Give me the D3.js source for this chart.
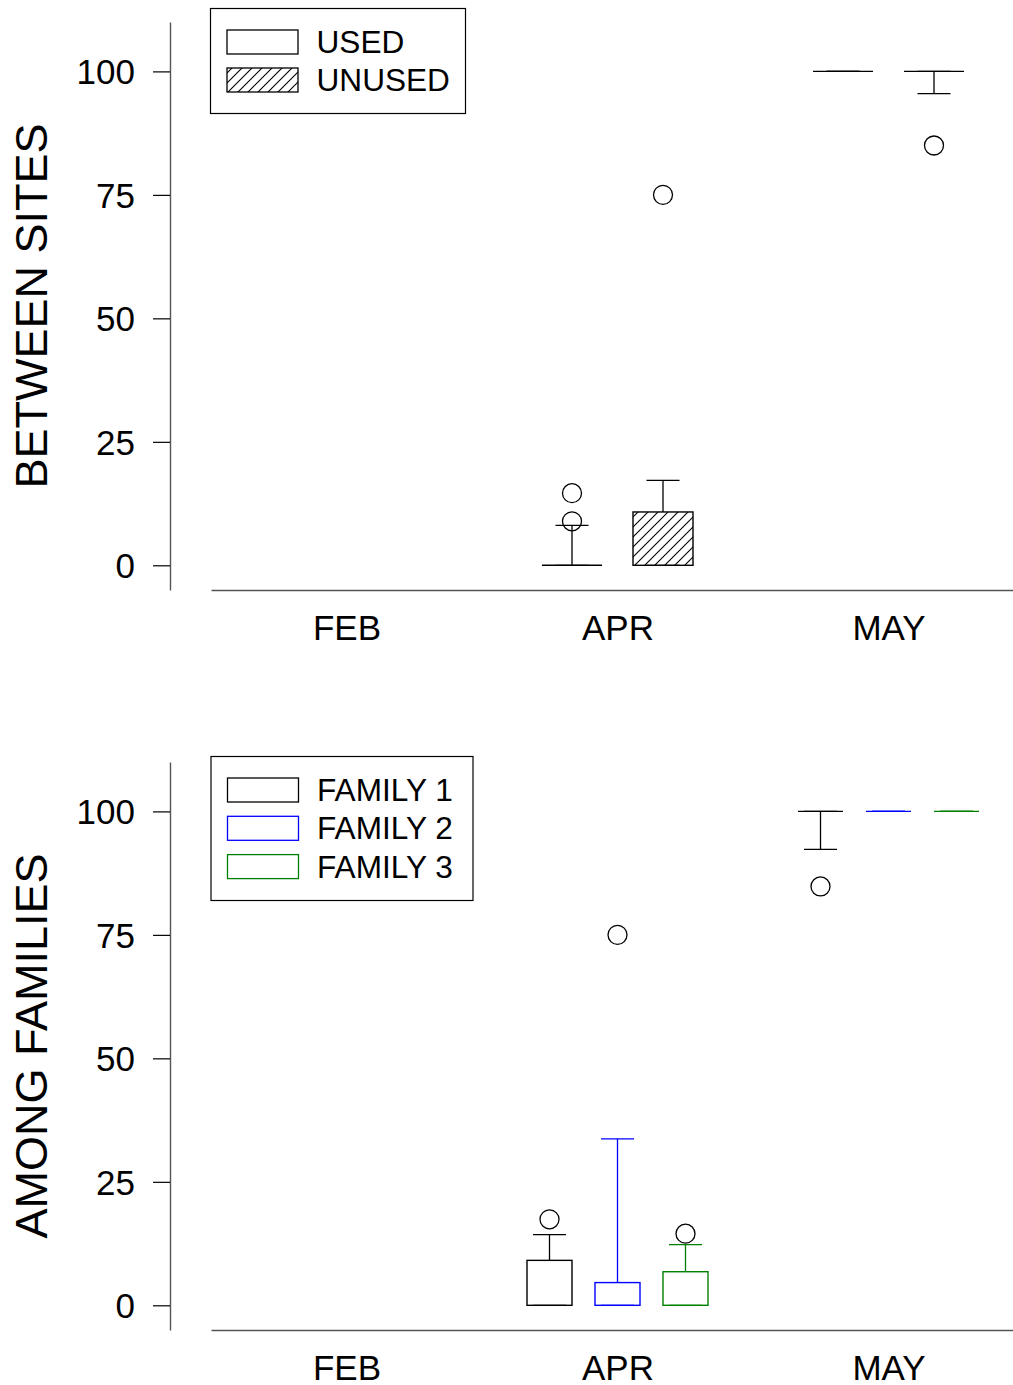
<!DOCTYPE html>
<html>
<head>
<meta charset="utf-8">
<script src="https://cdn.jsdelivr.net/npm/d3@7/dist/d3.min.js"></script>
<style>
  body { margin: 0; background: #fff; }
  svg { display: block; font-family: "Liberation Sans", Arial, sans-serif; }
</style>
</head>
<body>
<svg id="chart" width="1013" height="1385"></svg>
<script>
// ---------- DATA ----------
const months = ["FEB", "APR", "MAY"];
const yTicks = [0, 25, 50, 75, 100];

// Panel 1: BETWEEN SITES
const siteSeries = ["USED", "UNUSED"];
const usedQ1 = [null, 0, 100];
const usedQ3 = [null, 0, 100];
const usedLo = [null, 0, 100];
const usedHi = [null, 8.1, 100];
const usedOut = [[], [8.9, 14.6], []];

const unusedQ1 = [null, 0, 100];
const unusedQ3 = [null, 10.8, 100];
const unusedLo = [null, 0, 95.5];
const unusedHi = [null, 17.2, 100];
const unusedOut = [[], [75], [85]];

// Panel 2: AMONG FAMILIES
const familySeries = ["FAMILY 1", "FAMILY 2", "FAMILY 3"];
const fam1Q1 = [null, 0, 100];
const fam1Q3 = [null, 9.1, 100];
const fam1Lo = [null, 0, 92.3];
const fam1Hi = [null, 14.3, 100];
const fam1Out = [[], [17.4], [84.8]];

const fam2Q1 = [null, 0, 100];
const fam2Q3 = [null, 4.6, 100];
const fam2Lo = [null, 0, 100];
const fam2Hi = [null, 33.7, 100];
const fam2Out = [[], [75], []];

const fam3Q1 = [null, 0, 100];
const fam3Q3 = [null, 6.8, 100];
const fam3Lo = [null, 0, 100];
const fam3Hi = [null, 12.3, 100];
const fam3Out = [[], [14.5], []];

// ---------- DRAW ----------
const svg = d3.select("#chart");
const FONT_TICK = 35, FONT_CAT = 35, FONT_TITLE = 45, FONT_LEG = 31.6;

// hatch pattern
const defs = svg.append("defs");
const pat = defs.append("pattern").attr("id", "hatch")
  .attr("patternUnits", "userSpaceOnUse").attr("width", 10).attr("height", 10);
pat.append("path").attr("d", "M0,10 L10,0 M-2,2 L2,-2 M8,12 L12,8")
  .attr("stroke", "#000").attr("stroke-width", 1.1);

const x = d3.scalePoint().domain(months).range([211, 1024]).padding(0.5);

function makeSeries(name, q1, q3, lo, hi, out, color, fill) {
  return months.map((m, i) => ({ month: m, q1: q1[i], q3: q3[i], lo: lo[i], hi: hi[i], out: out[i], color, fill, name }));
}

function panel(cfg) {
  const y = d3.scaleLinear().domain([-5, 110]).range([cfg.bottom, cfg.top]);
  const g = svg.append("g");

  // y axis
  const ya = g.append("g").attr("transform", `translate(170,0)`)
    .call(d3.axisLeft(y).tickValues(yTicks).tickSize(17).tickSizeOuter(0).tickPadding(18));
  ya.select(".domain").attr("stroke", "#555").attr("stroke-width", 1.4);
  ya.selectAll(".tick line").attr("stroke", "#000").attr("stroke-width", 1.2);
  ya.selectAll(".tick text").attr("font-size", FONT_TICK).attr("font-family", "Liberation Sans, Arial, sans-serif")
    .attr("fill", "#000").attr("dy", "0.35em");

  // x axis
  const xa = g.append("g").attr("transform", `translate(0,${cfg.bottom})`)
    .call(d3.axisBottom(x).tickSize(0).tickSizeOuter(0).tickPadding(25));
  xa.select(".domain").attr("stroke", "#555").attr("stroke-width", 1.4);
  xa.selectAll(".tick text").attr("font-size", FONT_CAT).attr("font-family", "Liberation Sans, Arial, sans-serif")
    .attr("fill", "#000");

  // axis title
  g.append("text")
    .attr("transform", `translate(47,${(cfg.top + cfg.bottom) / 2}) rotate(-90)`)
    .attr("text-anchor", "middle").attr("font-size", FONT_TITLE).attr("fill", "#000")
    .text(cfg.title);

  // boxes
  cfg.series.forEach((ser, si) => {
    const off = cfg.offsets[si];
    ser.forEach(d => {
      if (d.q1 === null) return;
      const cx = x(d.month) + off;
      const bw = cfg.boxWidth, cw = 33;
      const sg = g.append("g");
      // whiskers
      sg.append("line").attr("x1", cx).attr("x2", cx).attr("y1", y(d.q3)).attr("y2", y(d.hi))
        .attr("stroke", d.color).attr("stroke-width", 1.3);
      sg.append("line").attr("x1", cx).attr("x2", cx).attr("y1", y(d.q1)).attr("y2", y(d.lo))
        .attr("stroke", d.color).attr("stroke-width", 1.3);
      sg.append("line").attr("x1", cx - cw / 2).attr("x2", cx + cw / 2).attr("y1", y(d.hi)).attr("y2", y(d.hi))
        .attr("stroke", d.color).attr("stroke-width", 1.3);
      sg.append("line").attr("x1", cx - cw / 2).attr("x2", cx + cw / 2).attr("y1", y(d.lo)).attr("y2", y(d.lo))
        .attr("stroke", d.color).attr("stroke-width", 1.3);
      // box
      if (d.q3 > d.q1) {
        sg.append("rect").attr("x", cx - bw / 2).attr("width", bw)
          .attr("y", y(d.q3)).attr("height", y(d.q1) - y(d.q3))
          .attr("fill", d.fill).attr("stroke", d.color).attr("stroke-width", 1.4);
      } else {
        sg.append("line").attr("x1", cx - bw / 2).attr("x2", cx + bw / 2).attr("y1", y(d.q1)).attr("y2", y(d.q1))
          .attr("stroke", d.color).attr("stroke-width", 1.4);
      }
      // outliers
      sg.selectAll("circle").data(d.out).join("circle")
        .attr("cx", cx).attr("cy", v => y(v)).attr("r", 9.5)
        .attr("fill", "none").attr("stroke", "#000").attr("stroke-width", 1.3);
    });
  });

  // legend
  const L = cfg.legend;
  g.append("rect").attr("x", L.x).attr("y", L.y).attr("width", L.w).attr("height", L.h)
    .attr("fill", "#fff").attr("stroke", "#000").attr("stroke-width", 1.2);
  cfg.legendItems.forEach((it, i) => {
    const cy = L.firstCenter + i * L.step;
    g.append("rect").attr("x", L.x + 16.5).attr("y", cy - 12).attr("width", 71).attr("height", 24)
      .attr("fill", it.fill).attr("stroke", it.color).attr("stroke-width", 1.3);
    g.append("text").attr("x", L.x + 106).attr("y", cy + 11).attr("font-size", FONT_LEG).attr("fill", "#000")
      .text(it.name);
  });
}

panel({
  top: 22, bottom: 590, title: "BETWEEN SITES",
  boxWidth: 60, offsets: [-45.5, 45.5],
  series: [
    makeSeries(siteSeries[0], usedQ1, usedQ3, usedLo, usedHi, usedOut, "#000", "#fff"),
    makeSeries(siteSeries[1], unusedQ1, unusedQ3, unusedLo, unusedHi, unusedOut, "#000", "url(#hatch)")
  ],
  legend: { x: 210.5, y: 8.5, w: 255, h: 105, firstCenter: 42, step: 38 },
  legendItems: [
    { name: siteSeries[0], color: "#000", fill: "#fff" },
    { name: siteSeries[1], color: "#000", fill: "url(#hatch)" }
  ]
});

panel({
  top: 762, bottom: 1330, title: "AMONG FAMILIES",
  boxWidth: 45, offsets: [-68, 0, 68],
  series: [
    makeSeries(familySeries[0], fam1Q1, fam1Q3, fam1Lo, fam1Hi, fam1Out, "#000", "none"),
    makeSeries(familySeries[1], fam2Q1, fam2Q3, fam2Lo, fam2Hi, fam2Out, "#0000ff", "none"),
    makeSeries(familySeries[2], fam3Q1, fam3Q3, fam3Lo, fam3Hi, fam3Out, "#008000", "none")
  ],
  legend: { x: 211, y: 756.5, w: 262, h: 144, firstCenter: 790, step: 38.3 },
  legendItems: [
    { name: familySeries[0], color: "#000", fill: "#fff" },
    { name: familySeries[1], color: "#0000ff", fill: "#fff" },
    { name: familySeries[2], color: "#008000", fill: "#fff" }
  ]
});
</script>
</body>
</html>
